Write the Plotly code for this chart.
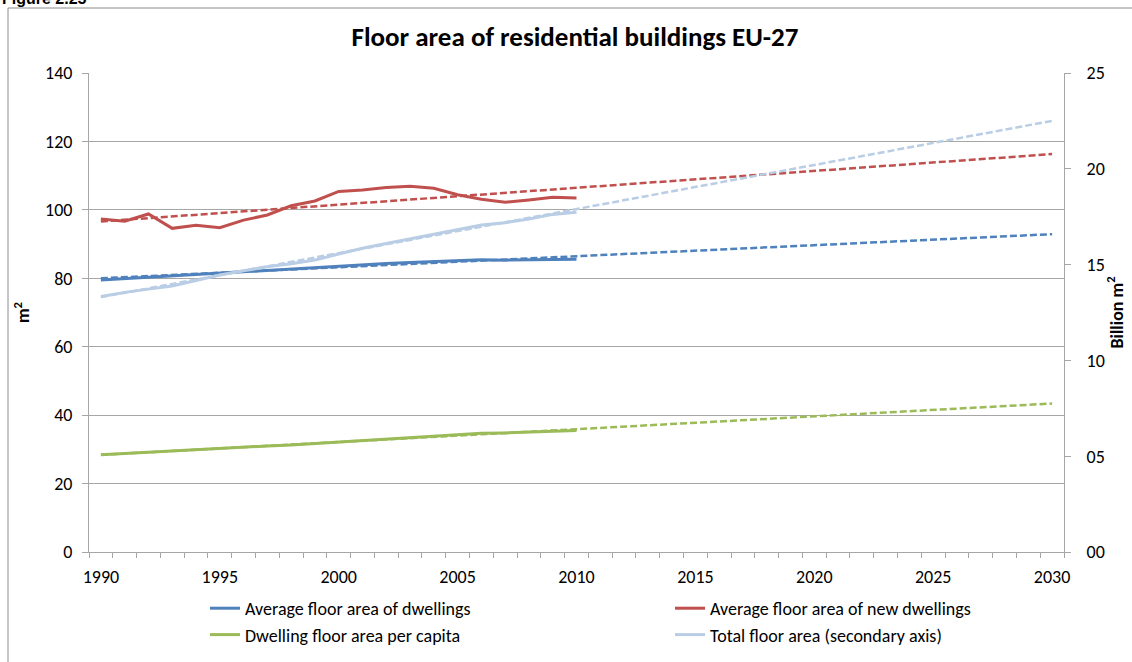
import plotly.graph_objects as go

# ---- data ----
years = list(range(1990, 2011))
avg_dwelling = [79.5, 79.9, 80.3, 80.7, 81.2, 81.7, 82.1, 82.5, 82.9, 83.2, 83.5,
                83.9, 84.3, 84.6, 84.8, 85.1, 85.4, 85.3, 85.4, 85.5, 85.6]
avg_new_dwelling = [97.3, 96.7, 98.8, 94.6, 95.5, 94.8, 97.0, 98.5, 101.2, 102.6, 105.4,
                    105.8, 106.5, 106.9, 106.3, 104.4, 103.1, 102.2, 102.9, 103.7, 103.5]
per_capita = [28.4, 28.8, 29.2, 29.5, 29.9, 30.3, 30.7, 31.0, 31.3, 31.7, 32.2,
              32.6, 33.0, 33.4, 33.9, 34.3, 34.7, 34.8, 35.0, 35.3, 35.5]
total_area = [13.33, 13.55, 13.72, 13.88, 14.17, 14.46, 14.68, 14.89, 15.05, 15.24, 15.55,
              15.85, 16.10, 16.34, 16.58, 16.81, 17.07, 17.19, 17.38, 17.62, 17.73]

# linear trend lines (start / end values)
trend_years = [1990, 2030]
trend_avg_dwelling = [80.0, 92.9]
trend_avg_new = [96.6, 116.3]
trend_per_capita = [28.4, 43.4]
trend_total = [13.3, 22.5]

x_tick_years = [1990, 1995, 2000, 2005, 2010, 2015, 2020, 2025, 2030]
y2_ticks = [0, 5, 10, 15, 20, 25]
y2_labels = ["00", "05", "10", "15", "20", "25"]

names = ["Average floor area of dwellings", "Average floor area of new dwellings",
         "Dwelling floor area per capita", "Total floor area (secondary axis)"]
colors = ["#4F81BD", "#C0504D", "#9BBB59", "#B9CDE5"]

FONT = "Calibri, Carlito, 'Liberation Sans Narrow', 'Noto Sans', sans-serif"

fig = go.Figure()

series = [(avg_dwelling, trend_avg_dwelling, "y"),
          (avg_new_dwelling, trend_avg_new, "y"),
          (per_capita, trend_per_capita, "y"),
          (total_area, trend_total, "y2")]

for (vals, trend, ax), name, col in zip(series, names, colors):
    fig.add_trace(go.Scatter(x=trend_years, y=trend, mode="lines", yaxis=ax,
                             line=dict(color=col, width=2.5, dash="7px,3px"),
                             showlegend=False, hoverinfo="skip"))
for (vals, trend, ax), name, col in zip(series, names, colors):
    fig.add_trace(go.Scatter(x=years, y=vals, mode="lines", name=name, yaxis=ax,
                             line=dict(color=col, width=3)))

W, H = 1132, 662
L, R, T, B = 89, 68, 73, 110
pw, ph = W - L - R, H - T - B

def px(x):
    return (x - L) / pw

def py(y):
    return (H - B - y) / ph

grid = "#A6A6A6"
all_years = list(range(1990, 2031))
minor_vals = [y - 0.5 for y in all_years] + [all_years[-1] + 0.5]

fig.update_layout(
    width=W, height=H,
    margin=dict(l=L, r=R, t=T, b=B, autoexpand=False),
    paper_bgcolor="white", plot_bgcolor="white",
    font=dict(family=FONT, size=18, color="#000000"),
    title=dict(text="<b>Floor area of residential buildings EU-27</b>",
               x=px(575), xref="paper", xanchor="center", y=1 - 37 / H, yanchor="middle",
               font=dict(family=FONT, size=27, color="#000000")),
    xaxis=dict(range=[1989.5, 2030.5], tickmode="array", tickvals=x_tick_years,
               ticktext=[str(v) for v in x_tick_years], ticks="", showgrid=False,
               showline=True, linecolor=grid, linewidth=1, zeroline=False,
               tickfont=dict(size=18), ticklabelstandoff=8, automargin=False,
               minor=dict(tickmode="array", tickvals=minor_vals, ticks="outside",
                          ticklen=5, tickcolor=grid, showgrid=False)),
    yaxis=dict(range=[0, 140], tickmode="array", tickvals=list(range(0, 141, 20)),
               showgrid=True, gridcolor=grid, gridwidth=1, zeroline=False,
               showline=True, linecolor=grid, ticks="outside", ticklen=6,
               tickcolor=grid, tickfont=dict(size=18), automargin=False,
               ticklabelstandoff=6,
               title=dict(text="<b>m<sup>2</sup></b>", standoff=10, font=dict(size=18))),
    yaxis2=dict(range=[0, 25], overlaying="y", side="right", tickmode="array",
                tickvals=y2_ticks, ticktext=y2_labels, showgrid=False, zeroline=False,
                showline=True, linecolor=grid, ticks="outside", ticklen=6,
                tickcolor=grid, tickfont=dict(size=18), automargin=False,
                ticklabelstandoff=12,
                title=dict(text="<b>Billion m<sup>2</sup></b>", standoff=6,
                           font=dict(size=18))),
    legend=dict(orientation="h", x=px(205), y=py(590), xanchor="left", yanchor="top",
                entrywidth=420, entrywidthmode="pixels", font=dict(size=18),
                bgcolor="rgba(0,0,0,0)", traceorder="normal"),
    showlegend=True,
)

# outer chart border (top and left edges visible) and cut-off figure label
fig.add_shape(type="line", xref="paper", yref="paper", x0=px(8), x1=px(8),
              y0=py(8), y1=py(H + 5), line=dict(color="#8C8C8C", width=1))
fig.add_shape(type="line", xref="paper", yref="paper", x0=px(8), x1=px(W + 5),
              y0=py(8), y1=py(8), line=dict(color="#8C8C8C", width=1))
fig.add_annotation(text="<b>Figure 2.25</b>", xref="paper", yref="paper",
                   x=px(0), y=py(-1), xanchor="left", yanchor="middle",
                   showarrow=False, font=dict(family="Liberation Sans, Arial", size=16))

fig.write_html("out.html", config={"displayModeBar": False},
               post_script="document.body.style.margin='0';document.body.style.overflow='hidden';")
